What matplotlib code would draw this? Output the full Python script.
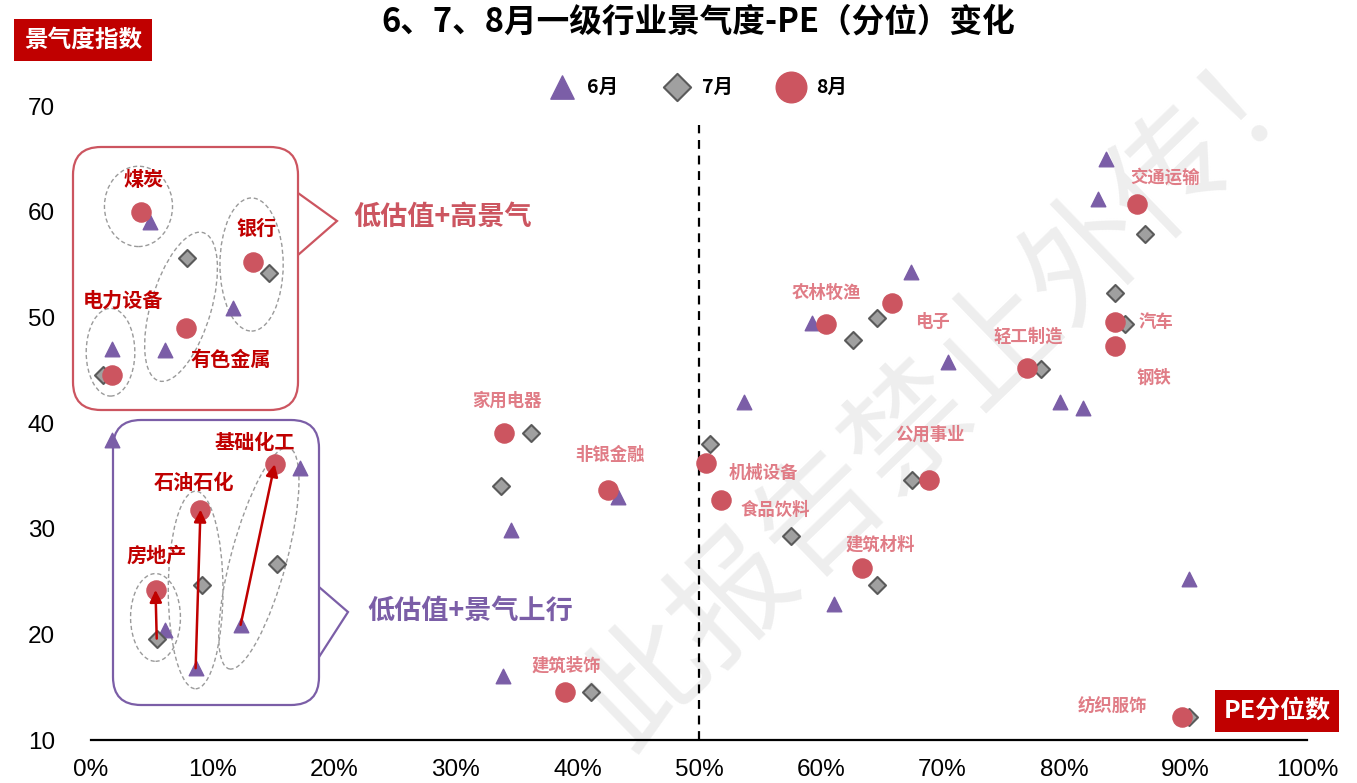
import numpy as np
import matplotlib.pyplot as plt
from matplotlib.patches import Ellipse, FancyBboxPatch, Polygon

plt.rcParams['font.family'] = ['Noto Sans CJK SC', 'DejaVu Sans']

# 6月 (三角)
pe6 = [4.85, 11.7, 6.1, 1.7, 1.7, 17.2, 12.3, 8.6, 6.1, 34.5, 43.3, 33.9, 53.7,
       83.5, 82.8, 67.4, 59.3, 70.5, 79.7, 81.6, 61.1, 90.3]
jq6 = [59.0, 50.9, 46.9, 47.0, 38.4, 35.7, 20.9, 16.8, 20.4, 29.9, 33.0, 16.1, 42.0,
       65.0, 61.2, 54.3, 49.5, 45.8, 42.0, 41.4, 22.9, 25.2]
# 7月 (菱形)
pe7 = [14.6, 7.9, 1.0, 15.3, 9.1, 5.4, 36.2, 33.7, 41.1, 50.9, 57.6, 86.7, 64.6,
       62.7, 78.1, 84.2, 85.0, 67.5, 64.6, 90.3]
jq7 = [54.2, 55.6, 44.5, 26.7, 24.7, 19.6, 39.1, 34.0, 14.5, 38.0, 29.3, 57.9, 49.9,
       47.9, 45.1, 52.3, 49.4, 34.6, 24.7, 12.2]
# 8月 (圆点)
pe8 = [4.1, 13.3, 7.8, 1.7, 15.1, 9.0, 5.3, 34.0, 42.5, 39.0, 50.6, 51.8, 86.0,
       65.9, 60.4, 77.0, 84.2, 84.2, 68.9, 63.4, 89.7]
jq8 = [60.0, 55.2, 49.0, 44.5, 36.1, 31.8, 24.2, 39.1, 33.7, 14.5, 36.2, 32.7, 60.7,
       51.4, 49.4, 45.2, 49.6, 47.3, 34.6, 26.3, 12.2]

# 行业标签
box_names = ['煤炭', '银行', '电力设备', '有色金属', '基础化工', '石油石化', '房地产']
box_pos = [(4.3, 63.0), (13.6, 58.4), (2.6, 51.6), (11.5, 46.0), (13.5, 38.2), (8.5, 34.4), (5.4, 27.5)]
other_names = ['家用电器', '非银金融', '机械设备', '食品饮料', '建筑装饰', '建筑材料', '公用事业',
               '农林牧渔', '电子', '轻工制造', '交通运输', '汽车', '钢铁', '纺织服饰']
other_pos = [(34.2, 42.1), (42.7, 37.0), (55.3, 35.3), (56.3, 31.8), (39.1, 17.0), (64.9, 28.5),
             (69.0, 38.9), (60.5, 52.3), (69.2, 49.6), (77.1, 48.2), (88.3, 63.2), (87.6, 49.6),
             (87.4, 44.3), (84.0, 13.2)]

# 箭头: (6/7月 坐标 -> 8月 坐标)
arrows = [((pe6[6], jq6[6]), (pe8[4], jq8[4])),
          ((pe6[7], jq6[7]), (pe8[5], jq8[5])),
          ((pe7[5], jq7[5]), (pe8[6], jq8[6]))]

fig = plt.figure(figsize=(13.57, 7.83), dpi=100)
ax = fig.add_axes([0.0671, 0.0549, 0.8961, 0.8097])
ax.set_xlim(0, 100)
ax.set_ylim(10, 70)

purple = '#7b5ea7'
red = '#cc5560'
dark_red = '#c00000'
pink = '#e07c86'

# 水印
ax.text(71.0, 43.5, '此报告禁止外传！', fontsize=88, color='#eeeeee', rotation=44,
        fontweight='light', ha='center', va='center', zorder=0)

ax.scatter(pe6, jq6, marker='^', s=110, color=purple, zorder=3, label='6月')
ax.scatter(pe7, jq7, marker='D', s=75, color='#a0a0a0', edgecolors='#5a5a5a', linewidths=1.5,
           zorder=4, label='7月')
ax.scatter(pe8, jq8, marker='o', s=190, color=red, zorder=5, label='8月')

for (p0, p1) in arrows:
    ax.annotate('', xy=p1, xytext=p0,
                arrowprops=dict(arrowstyle='-|>', color=dark_red, lw=1.8, mutation_scale=18,
                                shrinkA=0, shrinkB=0), zorder=6)

ax.axvline(50, ymin=0, ymax=0.97, color='black', ls=(0, (4, 3)), lw=1.6, zorder=1)

for name, (x, y) in zip(box_names, box_pos):
    ax.text(x, y, name, color=dark_red, fontsize=14.5, fontweight='bold', ha='center', va='center', zorder=7)
for name, (x, y) in zip(other_names, other_pos):
    ax.text(x, y, name, color=pink, fontsize=12.5, fontweight='bold', ha='center', va='center', zorder=7)

# 虚线椭圆 (数据坐标)
ellipses = [(3.9, 60.5, 5.6, 7.6, 0), (13.2, 55.0, 5.2, 12.6, 0), (7.4, 51.0, 5.0, 14.5, -14),
            (1.6, 46.7, 4.0, 8.3, 0), (5.3, 21.6, 4.1, 8.3, 0), (8.6, 24.2, 4.5, 18.7, 0),
            (13.8, 27.2, 4.6, 21.5, -13)]
for cx, cy, w, h, ang in ellipses:
    ax.add_patch(Ellipse((cx, cy), w, h, angle=ang, fill=False, ec='#9a9a9a', ls=(0, (3, 2)),
                         lw=1.0, zorder=2, clip_on=False))

# 说明框
def callout(x0, y0, x1, y1, ptr, color):
    box = FancyBboxPatch((x0, y0), x1 - x0, y1 - y0,
                         boxstyle='round,pad=0,rounding_size=28', transform=None,
                         fc='none', ec=color, lw=1.6, zorder=2)
    fig.add_artist(box)
    pa, tip, pb = ptr
    fig.add_artist(Polygon([(x1 - 1, pa + 1), tip, (x1 - 1, pb - 1)], closed=True, transform=None,
                           fc='white', ec='none'))
    fig.add_artist(Polygon([(x1, pa), tip, (x1, pb)], closed=False, transform=None,
                           fill=False, ec=color, lw=1.6))

H = 783
callout(73, H - 410, 298, H - 147, (H - 193, (337, H - 221), H - 255), '#cc5560')
callout(113, H - 705, 319, H - 420, (H - 587, (348, H - 612), H - 657), purple)
fig.text(443 / 1357, 1 - 217 / H, '低估值+高景气', color='#cc5560', fontsize=19.5, fontweight='bold',
         ha='center', va='center')
fig.text(470 / 1357, 1 - 611 / H, '低估值+景气上行', color=purple, fontsize=19.5, fontweight='bold',
         ha='center', va='center')

# 坐标轴
xt = np.arange(0, 101, 10)
ax.set_xticks(xt)
ax.set_xticklabels([f'{v}%' for v in xt], family='Liberation Sans', fontsize=17.5)
ax.set_yticks(np.arange(10, 71, 10))
ax.set_yticklabels([str(v) for v in range(10, 71, 10)], family='Liberation Sans', fontsize=17.5)
ax.tick_params(axis='x', length=0, pad=14)
ax.tick_params(axis='y', length=0, pad=26)
for s in ['top', 'right', 'left']:
    ax.spines[s].set_visible(False)
ax.spines['bottom'].set_linewidth(1.6)

fig.text(698 / 1357, 1 - 22 / H, '6、7、8月一级行业景气度-PE（分位）变化', fontsize=23.5, fontweight='bold',
         ha='center', va='center')
fig.text(83 / 1357, 1 - 40 / H, '景气度指数', fontsize=17, fontweight='bold', color='white',
         ha='center', va='center',
         bbox=dict(boxstyle='square,pad=0.4', fc=dark_red, ec='none'))
fig.text(1277 / 1357, 1 - 711 / H, 'PE分位数', fontsize=18, fontweight='bold', color='white',
         ha='center', va='center',
         bbox=dict(boxstyle='square,pad=0.35', fc=dark_red, ec='none'))

leg = fig.legend(loc='center', bbox_to_anchor=(695 / 1357, 1 - 87 / H), ncol=3, frameon=False,
                 prop={'size': 14, 'weight': 'bold'}, markerscale=1.6, handletextpad=0.3,
                 columnspacing=2.0)

fig.savefig('out.png', dpi=100)
